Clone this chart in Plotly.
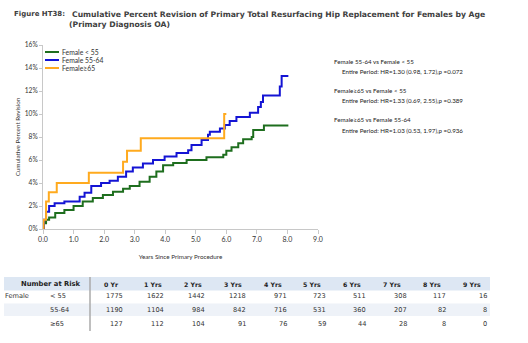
import plotly.graph_objects as go

# ---------------- data ----------------
green_t = [0, 0.02, 0.1, 0.2, 0.4, 0.7, 1.0, 1.3, 1.63, 1.96, 2.29, 2.62, 2.84, 3.16, 3.49,
           3.71, 3.93, 4.26, 4.7, 5.35, 5.9, 6.0, 6.17, 6.39, 6.55, 6.83, 6.88, 7.23, 8.03]
green_v = [0, 0.5, 0.8, 1.0, 1.4, 1.65, 2.0, 2.4, 2.7, 2.95, 3.25, 3.5, 3.75, 4.1, 4.55,
           5.0, 5.55, 5.75, 6.0, 6.25, 6.45, 6.8, 7.1, 7.45, 7.8, 8.0, 8.6, 9.0, 9.0]

blue_t = [0, 0.03, 0.1, 0.2, 0.38, 0.7, 1.2, 1.36, 1.58, 1.9, 2.18, 2.45, 2.72, 2.94, 3.27,
          3.6, 3.98, 4.37, 4.75, 4.86, 5.19, 5.4, 5.46, 5.79, 5.95, 6.11, 6.33, 6.77, 7.04,
          7.13, 7.2, 7.75, 7.81, 8.03]
blue_v = [0, 0.8, 1.5, 2.0, 2.25, 2.4, 2.8, 3.15, 3.75, 4.0, 4.2, 4.55, 5.0, 5.35, 5.7,
          6.0, 6.3, 6.6, 6.85, 7.3, 7.75, 8.2, 8.45, 8.75, 9.05, 9.4, 9.75, 10.1, 10.6,
          11.05, 11.6, 12.4, 13.3, 13.3]

orange_t = [0, 0.02, 0.1, 0.19, 0.45, 1.5, 2.62, 2.75, 3.2, 5.93, 6.0]
orange_v = [0, 0.8, 2.4, 3.2, 4.0, 4.9, 5.85, 6.8, 7.9, 10.0, 10.0]

series_names = ["Female < 55", "Female 55-64", "Female\u226565"]
series_colors = ["#1e6e1e", "#1414d4", "#ffaa1e"]

x_ticks = [0, 1, 2, 3, 4, 5, 6, 7, 8, 9]
y_ticks = [0, 2, 4, 6, 8, 10, 12, 14, 16]

hr_lines = [
    ("Female 55-64 vs Female < 55", "Entire Period: HR=1.30 (0.98, 1.72),p =0.072"),
    ("Female\u226565 vs Female < 55", "Entire Period: HR=1.33 (0.69, 2.55),p =0.389"),
    ("Female\u226565 vs Female 55-64", "Entire Period: HR=1.03 (0.53, 1.97),p =0.936"),
]

risk_headers = ["0 Yr", "1 Yrs", "2 Yrs", "3 Yrs", "4 Yrs", "5 Yrs", "6 Yrs", "7 Yrs", "8 Yrs", "9 Yrs"]
risk_groups = ["< 55", "55-64", "\u226565"]
risk_lt55 = [1775, 1622, 1442, 1218, 971, 723, 511, 308, 117, 16]
risk_55_64 = [1190, 1104, 984, 842, 716, 531, 360, 207, 82, 8]
risk_ge65 = [127, 112, 104, 91, 76, 59, 44, 28, 8, 0]

# ---------------- layout helpers ----------------
W, H = 528, 343
L, R, T, B = 43, 210, 45, 114
PW, PH = W - L - R, H - T - B


def px(x):
    return (x - L) / PW


def py(y):
    return (H - B - y) / PH


fig = go.Figure()
for t, v, name, col in [(green_t, green_v, series_names[0], series_colors[0]),
                        (blue_t, blue_v, series_names[1], series_colors[1]),
                        (orange_t, orange_v, series_names[2], series_colors[2])]:
    fig.add_trace(go.Scatter(x=t, y=v, mode="lines", name=name, line=dict(color=col, width=2, shape="hv"),
                             showlegend=False, cliponaxis=False))

annotations = []
shapes = []

TITLE_FONT = "DejaVu Sans, sans-serif"
BODY_FONT = "Lato, Roboto, sans-serif"
TXT = "#404040"


def ann(x, y, text, size, family=BODY_FONT, color="#333", anchor="left"):
    annotations.append(dict(x=px(x), y=py(y), xref="paper", yref="paper", xanchor=anchor, yanchor="middle",
                            text=text, showarrow=False, font=dict(family=family, size=size, color=color)))


# title
ann(12, 14, "<b>Figure HT38:</b>", 7, TITLE_FONT, TXT)
ann(70, 14, "<b>Cumulative Percent Revision of Primary Total Resurfacing Hip Replacement for Females by Age</b>",
    7.7, TITLE_FONT, TXT)
ann(67, 24, "<b>(Primary Diagnosis OA)</b>", 7.7, TITLE_FONT, TXT)

# legend (manual)
for i, (name, col) in enumerate(zip(series_names, series_colors)):
    yy = 52 + i * 8
    shapes.append(dict(type="line", xref="paper", yref="paper", x0=px(45), x1=px(59), y0=py(yy), y1=py(yy),
                       line=dict(color=col, width=2)))
    ann(60, yy, name, 6.8)

# HR text
for i, (a, b) in enumerate(hr_lines):
    y0 = 61 + i * 29.3
    ann(332, y0, a, 6.2, color="#222")
    ann(340, y0 + 10.5, b, 6.2, color="#222")

# number at risk table
shapes.append(dict(type="rect", xref="paper", yref="paper", x0=px(4), x1=px(490), y0=py(277), y1=py(290.5),
                   fillcolor="#dde7f3", line=dict(width=0), layer="below"))
shapes.append(dict(type="rect", xref="paper", yref="paper", x0=px(4), x1=px(490), y0=py(303.5), y1=py(316),
                   fillcolor="#eef2f8", line=dict(width=0), layer="below"))
shapes.append(dict(type="line", xref="paper", yref="paper", x0=px(90), x1=px(90), y0=py(277), y1=py(331),
                   line=dict(color="#aaaaaa", width=1.5)))

ann(51, 284, "<b>Number at Risk</b>", 6.8, TITLE_FONT, "#222", "center")
header_left = [102, 142, 182, 222, 262, 301, 341, 381, 421, 461]
num_right = [125, 166, 207, 248, 289, 328, 368, 409, 448, 489]
for h, xl in zip(risk_headers, header_left):
    ann(xl, 284, "<b>" + h + "</b>", 6.2, TITLE_FONT, "#222")
row_y = [296, 310, 323.5]
ann(3, row_y[0], "Female", 6.6, TITLE_FONT)
for g, yy, vals in zip(risk_groups, row_y, [risk_lt55, risk_55_64, risk_ge65]):
    ann(48, yy, g, 6.6, TITLE_FONT)
    for v, xr in zip(vals, num_right):
        ann(xr, yy, str(v), 6.6, TITLE_FONT, anchor="right")

fig.update_layout(
    width=W, height=H, template="none",
    margin=dict(l=L, r=R, t=T, b=B, autoexpand=False),
    paper_bgcolor="white", plot_bgcolor="white",
    showlegend=False,
    font=dict(family=BODY_FONT),
    annotations=annotations, shapes=shapes,
    xaxis=dict(range=[0, 9], tickvals=x_ticks, ticktext=[f"{v:.1f}" for v in x_ticks],
               showgrid=False, zeroline=False, showline=True, linecolor="#c8c8c8", linewidth=1,
               ticks="outside", ticklen=4, tickcolor="#c8c8c8", automargin=False,
               tickfont=dict(family=BODY_FONT, size=7, color="#333"),
               title=dict(text="Years Since Primary Procedure", standoff=12,
                          font=dict(family=BODY_FONT, size=6.3, color="#333"))),
    yaxis=dict(range=[0, 16], tickvals=y_ticks, ticktext=[f"{v}%" for v in y_ticks],
               showgrid=False, zeroline=False, showline=True, linecolor="#c8c8c8", linewidth=1,
               ticks="outside", ticklen=3, tickcolor="#c8c8c8", automargin=False,
               tickfont=dict(family=BODY_FONT, size=6.6, color="#333"),
               title=dict(text="Cumulative Percent Revision", standoff=3,
                          font=dict(family=BODY_FONT, size=6.3, color="#333"))),
)

fig.write_html("out.html")
